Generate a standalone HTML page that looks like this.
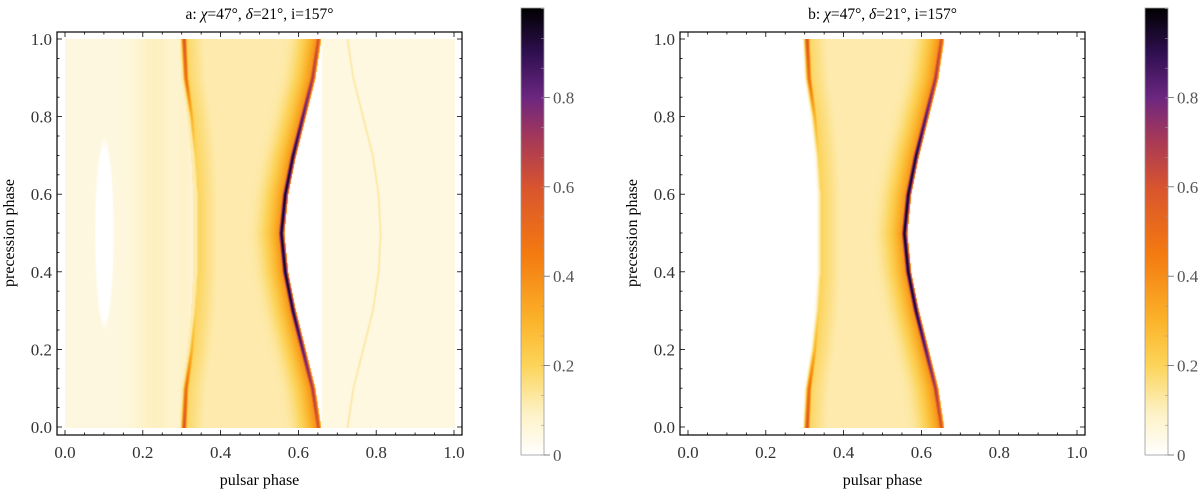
<!DOCTYPE html>
<html><head><meta charset="utf-8">
<style>
body{margin:0;width:1200px;height:492px;background:#fff;overflow:hidden;position:relative;font-family:"Liberation Serif",serif;}
canvas{position:absolute;}
svg{position:absolute;left:0;top:0;}
</style></head>
<body>
<canvas id="hmA" width="390" height="389" style="left:65px;top:39px"></canvas>
<canvas id="hmB" width="390" height="389" style="left:688px;top:39px"></canvas>
<svg id="svg" width="1200" height="492"></svg>
<script>
// ---- data, rows at precession phase knots ----
const precKnots   = [0,0.1,0.2,0.3,0.4,0.5,0.6,0.7,0.8,0.9,1.0];
const rightRidgeX = [0.65,0.635,0.61,0.585,0.565,0.555,0.565,0.585,0.61,0.635,0.65];
const rightRidgeV = [0.6,0.7,0.85,0.95,0.97,0.97,0.97,0.95,0.85,0.7,0.6];
const leftRidgeX  = [0.305,0.31,0.325,0.335,0.34,0.34,0.34,0.335,0.325,0.31,0.305];
const leftRidgeV  = [0.6,0.5,0.3,0.2,0.15,0.15,0.15,0.2,0.3,0.5,0.6];
const outerLineX  = [0.725,0.74,0.765,0.79,0.805,0.81,0.805,0.79,0.765,0.74,0.725];
const outerLineV  = [0.13,0.13,0.13,0.13,0.13,0.13,0.13,0.13,0.13,0.13,0.13];
const xTicks = ["0.0","0.2","0.4","0.6","0.8","1.0"];
const yTicks = ["0.0","0.2","0.4","0.6","0.8","1.0"];
const cbTicks = ["0","0.2","0.4","0.6","0.8"];
const cmapStops = [[0,[255,255,255]],[0.1,[253,240,192]],[0.2,[252,212,90]],[0.3,[251,179,42]],[0.45,[244,122,16]],[0.6,[216,84,47]],[0.7,[169,58,85]],[0.8,[108,38,128]],[0.9,[46,15,80]],[1,[0,0,0]]];

function interp(arr,y){const t=y*10;const i=Math.min(9,Math.floor(t));const f=t-i;return arr[i]*(1-f)+arr[i+1]*f;}
function cmap(v){v=Math.max(0,Math.min(1,v));for(let i=1;i<cmapStops.length;i++){if(v<=cmapStops[i][0]){const a=cmapStops[i-1],b=cmapStops[i];const f=(v-a[0])/(b[0]-a[0]);return a[1].map((c,k)=>c+(b[1][k]-c)*f);}}return [0,0,0];}
function g(x,c,s){return Math.exp(-0.5*((x-c)/s)**2);}
function value(x,y,panelA){
  const L=interp(leftRidgeX,y),R=interp(rightRidgeX,y),LV=interp(leftRidgeV,y),RV=interp(rightRidgeV,y);
  let v=0;
  if(x>=L-0.012 && x<=R+0.008){
    let base=0.12;
    if(x>L&&x<L+0.05) base+=0.08*(1-(x-L)/0.05);
    if(x>R-0.09&&x<R) base+=0.3*Math.pow((x-(R-0.09))/0.09,2);
    if(x<L) base*=panelA?1:Math.max(0,(x-(L-0.012))/0.012);
    if(x>R) base=0;
    v=Math.max(base,LV*g(x,L,0.005),RV*g(x,R,0.0055));
  } else if(panelA){
    if(x<L){
      v=0.05+0.05*g(x,0.23,0.035)+0.03*g(x,0.31,0.02);
      const ex=(x-0.1)/0.022,ey=(y-0.5)/0.22;
      const e=ex*ex+ey*ey;
      if(e<1) v=0; else if(e<1.3) v*= (e-1)/0.3;
    } else if(x>0.66){
      const O=interp(outerLineX,y);
      v=Math.max(0.05,interp(outerLineV,y)*g(x,O,0.003));
    }
  }
  return v;
}
function draw(id,panelA){
  const c=document.getElementById(id),ctx=c.getContext('2d');
  const W=c.width,H=c.height,img=ctx.createImageData(W,H);
  for(let j=0;j<H;j++){const y=1-j/(H-1);
    for(let i=0;i<W;i++){const x=i/(W-1);
      const col=cmap(value(x,y,panelA));const p=(j*W+i)*4;
      img.data[p]=col[0];img.data[p+1]=col[1];img.data[p+2]=col[2];img.data[p+3]=255;}}
  ctx.putImageData(img,0,0);
}
draw('hmA',true);draw('hmB',false);

const NS="http://www.w3.org/2000/svg",svg=document.getElementById('svg');
function el(t,a,txt){const e=document.createElementNS(NS,t);for(const k in a)e.setAttribute(k,a[k]);if(txt!==undefined)e.textContent=txt;svg.appendChild(e);return e;}
const defs=el('defs',{});const lg=document.createElementNS(NS,'linearGradient');lg.setAttribute('id','cb');lg.setAttribute('x1','0');lg.setAttribute('y1','1');lg.setAttribute('x2','0');lg.setAttribute('y2','0');
for(let k=0;k<=20;k++){const v=k/20,c=cmap(v);const s=document.createElementNS(NS,'stop');s.setAttribute('offset',v);s.setAttribute('stop-color',`rgb(${c.map(Math.round).join(',')})`);lg.appendChild(s);}defs.appendChild(lg);

function panel(name,fx,dx0,title,cbx){
  const fy=32,fw=405,fh=403,dy0=39,dw=389,dh=388;
  const X=v=>dx0+v*dw,Y=v=>dy0+(1-v)*dh;
  const f=el('rect',{x:fx,y:fy,width:fw,height:fh,fill:'none',stroke:'#000','stroke-width':1.2});
  
  for(let k=0;k<=20;k++){const v=k/20,maj=k%4===0,len=maj?5:2.5;
    el('line',{x1:X(v),x2:X(v),y1:fy+fh,y2:fy+fh-len,stroke:'#000','stroke-width':0.8});
    el('line',{x1:X(v),x2:X(v),y1:fy,y2:fy+len,stroke:'#000','stroke-width':0.8});
    el('line',{x1:fx,x2:fx+len,y1:Y(v),y2:Y(v),stroke:'#000','stroke-width':0.8});
    el('line',{x1:fx+fw,x2:fx+fw-len,y1:Y(v),y2:Y(v),stroke:'#000','stroke-width':0.8});}
  xTicks.forEach((t,i)=>{const e=el('text',{x:X(i/5),y:458,'text-anchor':'middle','font-size':17,fill:'#333'},t);
    });
  yTicks.forEach((t,i)=>{const e=el('text',{x:fx-5,y:Y(i/5)+6,'text-anchor':'end','font-size':17,fill:'#333'},t);
    });
  const xt=el('text',{x:X(0.5),y:485,'text-anchor':'middle','font-size':16},'pulsar phase');
  
  const yt=el('text',{x:0,y:0,transform:`translate(${fx-43},${Y(0.5)}) rotate(-90)`,'text-anchor':'middle','font-size':16},'precession phase');
  
  const tt=el('text',{x:X(0.5),y:19,'text-anchor':'middle','font-size':15.5});
  tt.innerHTML=title;
  const cy0=8,cy1=455,ch=cy1-cy0;
  const cb=el('rect',{x:cbx,y:cy0,width:23,height:ch,fill:'url(#cb)',stroke:'#999','stroke-width':0.8});
  
  for(let k=0;k<=15;k++){const v=k/15;const yy=cy1-v*ch*0.9985;
    el('line',{x1:cbx+23-3,x2:cbx+23,y1:yy,y2:yy,stroke:'#999','stroke-width':0.6});}
  cbTicks.forEach(t=>{const v=parseFloat(t),yy=cy1-v*ch;
    el('line',{x1:cbx+23,x2:cbx+29,y1:yy,y2:yy,stroke:'#666','stroke-width':0.8});
    const e=el('text',{x:cbx+32,y:yy+6,'font-size':17,fill:'#555'},t);
    });
}
panel('panel-a',57,65,'a: <tspan font-style="italic">χ</tspan>=47°, <tspan font-style="italic">δ</tspan>=21°, i=157°',521);
panel('panel-b',680,688,'b: <tspan font-style="italic">χ</tspan>=47°, <tspan font-style="italic">δ</tspan>=21°, i=157°',1145);
</script>
</body></html>
